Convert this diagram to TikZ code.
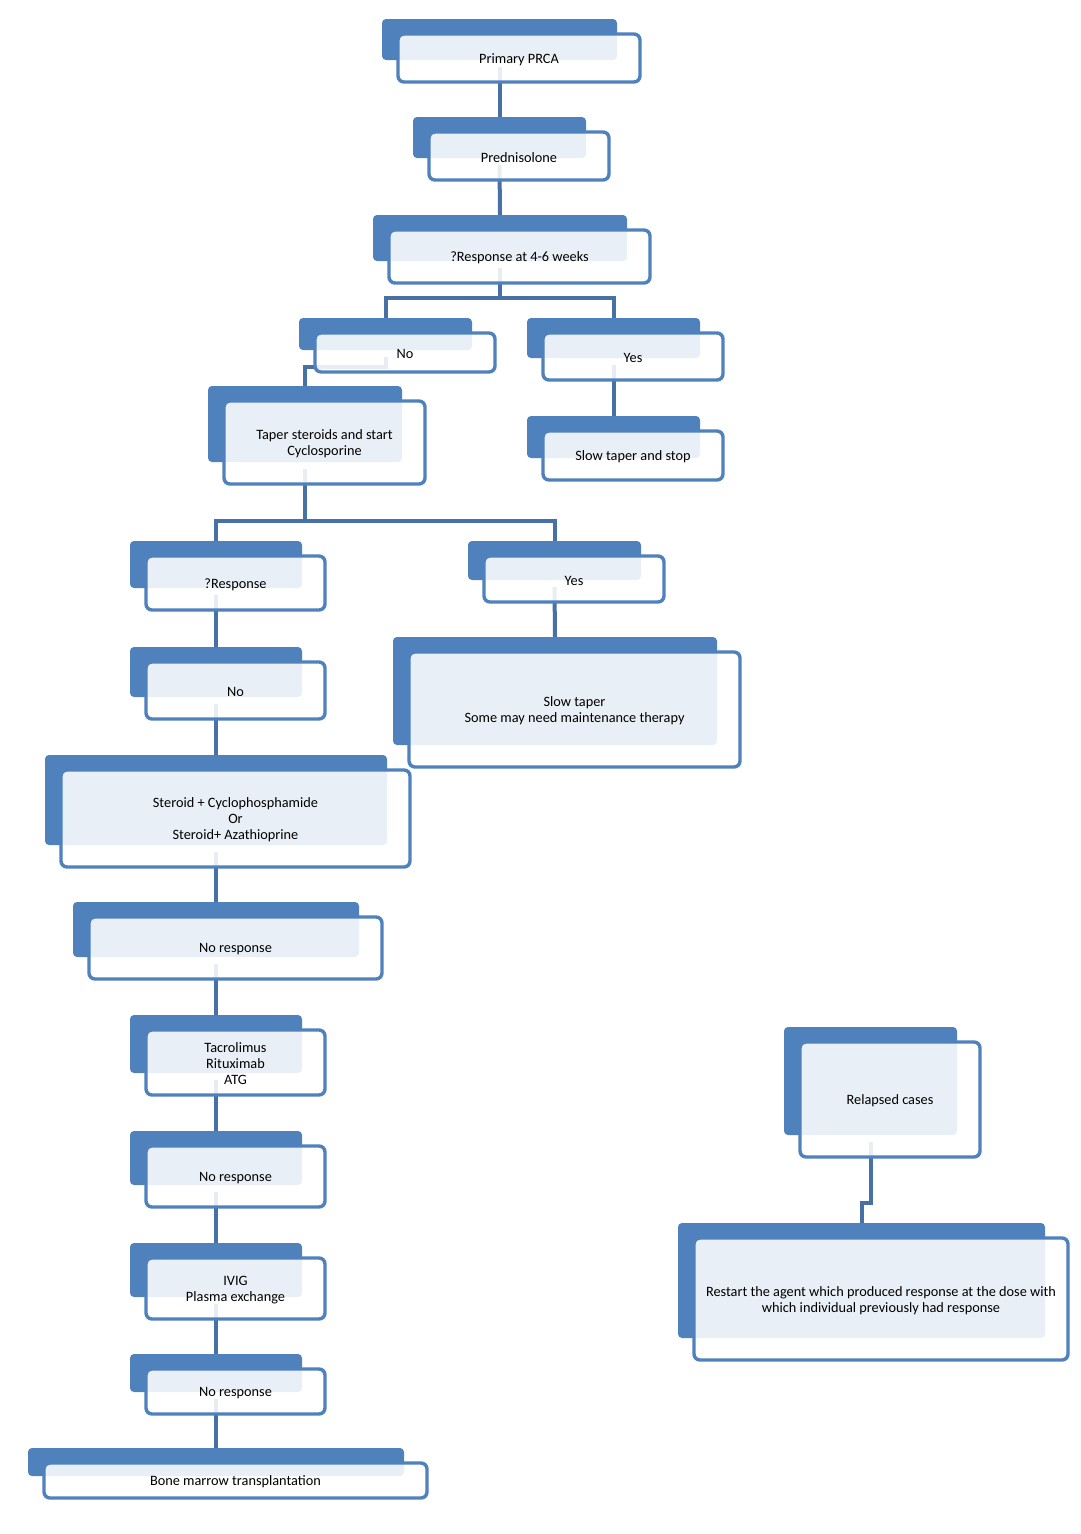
\documentclass[tikz,border=0pt]{standalone}
\usepackage{fontspec}
\setmainfont{Carlito}
\usetikzlibrary{calc}
\pgfdeclarelayer{bg}
\pgfsetlayers{bg,main}
\definecolor{boxblue}{RGB}{79,129,189}
\definecolor{connblue}{RGB}{70,112,166}
\tikzset{
  backbox/.style={fill=boxblue, draw=none, rounded corners=4pt, inner sep=0pt, outer sep=0pt, anchor=north west},
  frontbox/.style={draw=boxblue, line width=3.4pt, fill=white, fill opacity=0.88,
    rounded corners=6pt, inner sep=0pt, outer sep=0pt, anchor=north west},
  boxtext/.style={align=center, inner sep=0pt, font=\fontsize{14.3}{16}\selectfont, text=black},
  conn/.style={draw=connblue, line width=4pt, line cap=butt, line join=miter},
}
\newcommand\flowbox[6]{%
  \node[backbox, minimum width={#4-#2}, minimum height={#5-#3}] (#1-b) at (#2,#3) {};
  \node[frontbox, minimum width={#4-#2+7}, minimum height={#5-#3+7}] (#1) at ({#2+16},{#3+15}) {};
  \node[boxtext] (#1-t) at ($(#1.center)+(0,1.5)$) {#6};
}
\begin{document}
\begin{tikzpicture}[x=1pt,y=-1pt]
\useasboundingbox (0,0) rectangle (1080,1534);

\flowbox{prca}{382}{19}{617}{60}{Primary PRCA}
\flowbox{pred}{413}{117}{586}{158}{Prednisolone}
\flowbox{resp1}{373}{215}{627}{261}{?Response at 4-6 weeks}
\flowbox{no1}{299}{318}{472}{350}{No}
\flowbox{yes1}{527}{318}{700}{358}{Yes}
\flowbox{taper}{208}{386}{402}{462}{Taper steroids and start\\Cyclosporine}
\flowbox{slowstop}{527}{416}{700}{458}{Slow taper and stop}
\flowbox{resp2}{130}{541}{302}{588}{?Response}
\flowbox{yes2}{468}{541}{641}{580}{Yes}
\flowbox{slowtaper}{393}{637}{717}{745}{Slow taper\\Some may need maintenance therapy}
\flowbox{no2}{130}{647}{302}{697}{No}
\flowbox{steroid}{45}{755}{387}{845}{Steroid + Cyclophosphamide\\Or\\Steroid+ Azathioprine}
\flowbox{nr1}{73}{902}{359}{957}{No response}
\flowbox{tacro}{130}{1015}{302}{1073}{Tacrolimus\\Rituximab\\ATG}
\flowbox{nr2}{130}{1131}{302}{1185}{No response}
\flowbox{ivig}{130}{1243}{302}{1297}{IVIG\\Plasma exchange}
\flowbox{nr3}{130}{1354}{302}{1392}{No response}
\flowbox{bmt}{28}{1448}{404}{1476}{Bone marrow transplantation}
\flowbox{relapsed}{784}{1027}{957}{1135}{Relapsed cases}
\flowbox{restart}{678}{1223}{1045}{1338}{Restart the agent which produced response at the dose with\\which individual previously had response}

\coordinate (j1) at (500,298);
\coordinate (j2) at (305,521);
\coordinate (e1) at (345,367);
\coordinate (e2) at (866,1203);

\begin{pgfonlayer}{bg}
\fill[white] (0,0) rectangle (1080,1534);
\draw[conn] ($(prca-b.south)+(0,7)$) -- (pred-b.north);
\draw[conn] ($(pred-b.south)+(0,7)$) -- (resp1-b.north);
\draw[conn] ($(resp1-b.south)+(0,7)$) -- (j1);
\draw[conn] (no1-b.north) |- (j1) -| (yes1-b.north);
\draw[conn] ($(no1-b.south)+(0,7)$) |- (e1) -| (taper-b.north);
\draw[conn] ($(yes1-b.south)+(0,7)$) -- (slowstop-b.north);
\draw[conn] ($(taper-b.south)+(0,7)$) -- (j2);
\draw[conn] (resp2-b.north) |- (j2) -| (yes2-b.north);
\draw[conn] ($(yes2-b.south)+(0,7)$) -- (slowtaper-b.north);
\draw[conn] ($(resp2-b.south)+(0,7)$) -- (no2-b.north);
\draw[conn] ($(no2-b.south)+(0,7)$) -- (steroid-b.north);
\draw[conn] ($(steroid-b.south)+(0,7)$) -- (nr1-b.north);
\draw[conn] ($(nr1-b.south)+(0,7)$) -- (tacro-b.north);
\draw[conn] ($(tacro-b.south)+(0,7)$) -- (nr2-b.north);
\draw[conn] ($(nr2-b.south)+(0,7)$) -- (ivig-b.north);
\draw[conn] ($(ivig-b.south)+(0,7)$) -- (nr3-b.north);
\draw[conn] ($(nr3-b.south)+(0,7)$) -- (bmt-b.north);
\draw[conn] ($(relapsed-b.south)+(0,7)$) |- (e2) -| (restart-b.north);
\end{pgfonlayer}
\end{tikzpicture}
\end{document}
